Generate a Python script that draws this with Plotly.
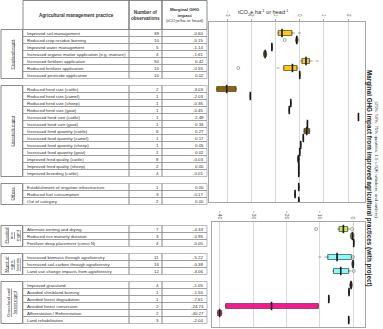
import plotly.graph_objects as go

W, H = 383, 329
FONT = "Liberation Sans"

# ---- data -------------------------------------------------------------
groups = ["Cropland mgmt", "Livestock mgmt", "Others",
          "Flooded<br>rice<br>mgmt", "Mgmt of<br>agro-<br>forests",
          "Grassland and<br>forest mgmt"]
group_start = [0, 8, 22, 28, 32, 36]
group_colors = ["#FFCC00", "#8F6400", "#FFCC00", "#C6F03C", "#7FFFFF", "#FF1493"]
group_panel = [1, 1, 1, 2, 2, 2]

practices = [
    ["Improved soil management", "Reduced crop residue burning", "Improved water management",
     "Increased organic matter application (e.g. manure)", "Increased fertilizer application",
     "Reduced fertilizer application", "Increased pesticide application"],
    ["Reduced herd size (cattle)", "Reduced herd size (camel)", "Reduced herd size (sheep)",
     "Reduced herd size (goat)", "Increased herd size (cattle)", "Increased herd size (goat)",
     "Increased feed quantity (cattle)", "Increased feed quantity (camel)",
     "Increased feed quantity (sheep)", "Increased feed quantity (goat)",
     "Improved feed quality (cattle)", "Improved feed quality (sheep)", "Improved breeding (cattle)"],
    ["Establishment of irrigation infrastructure", "Reduced fuel consumption", "Out of category"],
    ["Alternate wetting and drying", "Reduced rice maturity duration", "Fertilizer deep placement (const N)"],
    ["Increased biomass through agroforestry", "Increased soil-carbon through agroforestry",
     "Land use change impacts from agroforestry"],
    ["Improved grassland", "Avoided shrubland burning", "Avoided forest degradation",
     "Avoided forest conversion", "Afforestation / Reforestation", "Land rehabilitation"],
]
n_obs = [
    [39, 10, 5, 4, 50, 10, 10],
    [2, 1, 1, 1, 1, 1, 6, 1, 1, 1, 8, 2, 4],
    [1, 3, 2],
    [7, 3, 4],
    [11, 16, 12],
    [4, 1, 1, 2, 2, 3],
]
impact = [
    [-0.60, -0.15, -1.14, -1.61, 0.42, -0.55, 0.02],
    [-3.03, -2.03, -0.36, -0.45, 2.48, 0.34, 0.27, 0.17, 0.05, 0.02, -0.03, 0.00, -0.01],
    [0.00, -0.17, 0.00],
    [-4.33, -0.95, -0.05],
    [-5.22, -0.38, -4.06],
    [-1.05, -1.50, -7.61, -24.74, -40.27, -2.04],
]
# box statistics
q1 = [
    [-0.89, -0.16, -1.16, -1.49, 0.09, -0.66, -0.01],
    [-3.43, -2.04, -0.37, -0.43, 2.43, 0.32, 0.18, 0.15, 0.04, 0.0, -0.09, -0.04, -0.04],
    [-0.04, -0.19, -0.04],
    [-4.2, -0.7, 0.2],
    [-7.6, -0.3, -5.9],
    [-0.9, -1.2, -7.3, -38.3, -40.7, -1.3],
]
median = [
    [-0.73, -0.12, -1.15, -1.43, 0.26, -0.30, 0.0],
    [-3.02, -2.04, -0.37, -0.43, 2.43, 0.32, 0.29, 0.15, 0.04, 0.0, -0.05, -0.04, -0.04],
    [-0.04, -0.19, -0.04],
    [-2.9, -0.2, 0.2],
    [-4.8, 0.0, -3.7],
    [-0.6, -1.2, -7.3, -24.5, -40.1, -1.3],
]
q3 = [
    [-0.32, -0.08, -1.14, -1.37, 0.41, -0.11, 0.01],
    [-2.63, -2.04, -0.37, -0.43, 2.43, 0.32, 0.41, 0.15, 0.04, 0.0, -0.02, -0.04, -0.04],
    [-0.04, -0.19, -0.04],
    [-1.6, 0.2, 0.2],
    [-0.5, 0.2, -1.3],
    [-0.3, -1.2, -7.3, -10.4, -39.5, -1.3],
]
lo = [
    [-0.89, -0.16, -1.16, -1.49, 0.0, -0.96, -0.01],
    [-3.43, -2.04, -0.37, -0.43, 2.43, 0.32, 0.18, 0.15, 0.04, 0.0, -0.09, -0.04, -0.04],
    [-0.04, -0.19, -0.04],
    [-4.9, -1.0, 0.2],
    [-10.4, -0.3, -6.2],
    [-0.9, -1.2, -7.3, -38.3, -40.7, -1.3],
]
hi = [
    [0.07, -0.05, -1.14, -1.37, 0.89, -0.05, 0.01],
    [-2.63, -2.04, -0.37, -0.43, 2.43, 0.32, 0.41, 0.15, 0.04, 0.0, -0.02, -0.04, -0.04],
    [-0.04, -0.19, -0.04],
    [-0.9, 0.2, 0.2],
    [-0.2, 0.2, -0.5],
    [-0.3, -1.2, -7.3, -10.4, -39.5, -1.3],
]
outlier_group = [0, 0, 3, 3, 4, 4]
outlier_row = [1, 5, 0, 0, 0, 2]
outlier_val = [-0.62, -2.54, -11.1, -0.3, 0.0, 0.2]

upper_ticks = [-3, -2, -1, 0, 1, 2]
lower_ticks = [-40, -30, -20, -10, 0]


# ---- helpers: pixel -> paper / slot ----------------------------------
def px_x(x):
    return x / W


def px_y(y):
    return 1 - y / H


def slot_of_px(y):
    return (y - 33) / 7.0


fig = go.Figure()

for g in range(len(groups)):
    xa, ya = ("x", "y") if group_panel[g] == 1 else ("x2", "y2")
    ys = [group_start[g] + i for i in range(len(practices[g]))]
    fig.add_trace(go.Box(
        orientation="h", y=ys, q1=q1[g], median=median[g], q3=q3[g],
        lowerfence=q1[g], upperfence=q3[g], width=0.72,
        fillcolor=group_colors[g], line=dict(color="#404040", width=0.7),
        xaxis=xa, yaxis=ya, showlegend=False, hoverinfo="skip"))
    # whiskers
    wx, wy = [], []
    for i, s in enumerate(ys):
        if lo[g][i] < q1[g][i]:
            wx += [lo[g][i], q1[g][i], None]
            wy += [s, s, None]
        if hi[g][i] > q3[g][i]:
            wx += [q3[g][i], hi[g][i], None]
            wy += [s, s, None]
    if wx:
        fig.add_trace(go.Scatter(x=wx, y=wy, mode="lines",
                                 line=dict(color="#8c8c8c", width=0.8, dash="dot"),
                                 xaxis=xa, yaxis=ya, showlegend=False, hoverinfo="skip"))
    # medians
    fig.add_trace(go.Scatter(x=median[g], y=ys, mode="markers",
                             marker=dict(symbol="line-ns", size=6,
                                         line=dict(width=1.6, color="#1a1a1a")),
                             xaxis=xa, yaxis=ya, showlegend=False, hoverinfo="skip"))

# outliers
for panel, xa, ya in [(1, "x", "y"), (2, "x2", "y2")]:
    ox = [v for g, v in zip(outlier_group, outlier_val) if group_panel[g] == panel]
    oy = [group_start[g] + r for g, r in zip(outlier_group, outlier_row) if group_panel[g] == panel]
    fig.add_trace(go.Scatter(x=ox, y=oy, mode="markers",
                             marker=dict(symbol="circle-open", size=3, color="#7f7f7f",
                                         line=dict(width=0.7, color="#7f7f7f")),
                             xaxis=xa, yaxis=ya, showlegend=False, hoverinfo="skip"))

# table axes (x in pixels, y in row slots)
fig.add_trace(go.Scatter(x=[0], y=[0], mode="markers", marker=dict(opacity=0),
                         xaxis="x3", yaxis="y3", showlegend=False, hoverinfo="skip"))

# ---- table ------------------------------------------------------------
shapes = []
ann = []
col_x = [23, 129, 162, 207]
cell_line = dict(color="#8c8c8c", width=0.6)
txt_font = dict(family=FONT, size=4.4, color="#333333")

# header
hy0, hy1 = slot_of_px(0.5), -0.5
for a, b in zip(col_x[:-1], col_x[1:]):
    shapes.append(dict(type="rect", xref="x3", yref="y3", x0=a, x1=b, y0=hy0, y1=hy1,
                       line=dict(color="#595959", width=0.7)))
hmid = (hy0 + hy1) / 2
ann.append(dict(x=76, y=hmid, text="<b>Agricultural management practice</b>",
                font=dict(family=FONT, size=4.6, color="#333333")))
ann.append(dict(x=145.5, y=hmid, text="<b>Number of<br>observations</b>",
                font=dict(family=FONT, size=4.6, color="#333333")))
ann.append(dict(x=185, y=hmid, text="<b>Marginal GHG<br>impact</b><br>(tCO<sub>2</sub>e/ha or head)",
                font=dict(family=FONT, size=4.4, color="#333333")))

for g in range(len(groups)):
    s0 = group_start[g]
    n = len(practices[g])
    shapes.append(dict(type="rect", xref="x3", yref="y3", x0=1, x1=22.5,
                       y0=s0 - 0.5, y1=s0 + n - 0.5, line=dict(color="#595959", width=0.7)))
    ann.append(dict(x=11.5, y=s0 + (n - 1) / 2, text="<u>" + groups[g] + "</u>", textangle=-90,
                    font=dict(family=FONT, size=4.4, color="#333333")))
    for i in range(n):
        s = s0 + i
        for a, b in zip(col_x[:-1], col_x[1:]):
            shapes.append(dict(type="rect", xref="x3", yref="y3", x0=a, x1=b,
                               y0=s - 0.5, y1=s + 0.5, line=cell_line))
        ann.append(dict(x=24.5, y=s, text=practices[g][i], xanchor="left", font=txt_font))
        ann.append(dict(x=160.5, y=s, text=str(n_obs[g][i]), xanchor="right", font=txt_font))
        ann.append(dict(x=205.5, y=s, text=f"{impact[g][i]:.2f}", xanchor="right", font=txt_font))

for a in ann:
    a.update(xref="x3", yref="y3", showarrow=False)
    a.setdefault("xanchor", "center")
    a["yanchor"] = "middle"

# titles
ann.append(dict(xref="paper", yref="paper", x=px_x(291), y=px_y(5.5),
                text="tCO<sub>2</sub>e ha<sup>-1</sup> or head<sup>-1</sup>", showarrow=False,
                font=dict(family=FONT, size=5.6, color="#333333")))
ann.append(dict(xref="paper", yref="paper", x=px_x(375), y=px_y(178), textangle=90,
                text="<b>Marginal GHG impact from improved agricultural practices (with project)</b>",
                showarrow=False, font=dict(family=FONT, size=6.3, color="#1a1a1a")))
ann.append(dict(xref="paper", yref="paper", x=px_x(381), y=px_y(160), textangle=90,
                text="(25%, 50%, 75% quartiles, 1.5 x IQR whiskers, and outliers)",
                showarrow=False, font=dict(family=FONT, size=4.4, color="#404040")))

axis_common = dict(showline=True, mirror=True, linecolor="#a6a6a6", linewidth=1,
                   zeroline=False, fixedrange=True)
fig.update_layout(
    width=W, height=H, margin=dict(l=0, r=0, t=0, b=0),
    paper_bgcolor="white", plot_bgcolor="rgba(0,0,0,0)", showlegend=False,
    xaxis=dict(domain=[px_x(209), px_x(365)], range=[-3.75, 2.7], anchor="y", side="top",
               tickvals=upper_ticks, tickangle=90, showgrid=True, gridcolor="#d9d9d9",
               ticks="outside", ticklen=2, tickcolor="#a6a6a6", ticklabelstandoff=1,
               tickfont=dict(family=FONT, size=4.5, color="#595959"), **axis_common),
    yaxis=dict(domain=[px_y(202), px_y(22)], range=[slot_of_px(202), slot_of_px(22)],
               anchor="x", showticklabels=False, showgrid=False, ticks="", **axis_common),
    xaxis2=dict(domain=[px_x(212), px_x(365)], range=[-42.4, 3.6], anchor="y2", side="top",
                tickvals=lower_ticks, tickangle=90, showgrid=True, gridcolor="#d9d9d9",
                ticks="", tickfont=dict(family=FONT, size=5, color="#595959"), **axis_common),
    yaxis2=dict(domain=[px_y(327), px_y(222)], range=[slot_of_px(327), slot_of_px(222)],
                anchor="x2", showticklabels=False, showgrid=False, ticks="", **axis_common),
    xaxis3=dict(domain=[0, 1], range=[0, W], visible=False, anchor="y3", fixedrange=True),
    yaxis3=dict(domain=[0, 1], range=[slot_of_px(H), slot_of_px(0)], visible=False,
                anchor="x3", fixedrange=True),
    shapes=shapes, annotations=ann,
)

fig.write_html("out.html", config={"displayModeBar": False},
               post_script="document.body.style.margin='0px';")
